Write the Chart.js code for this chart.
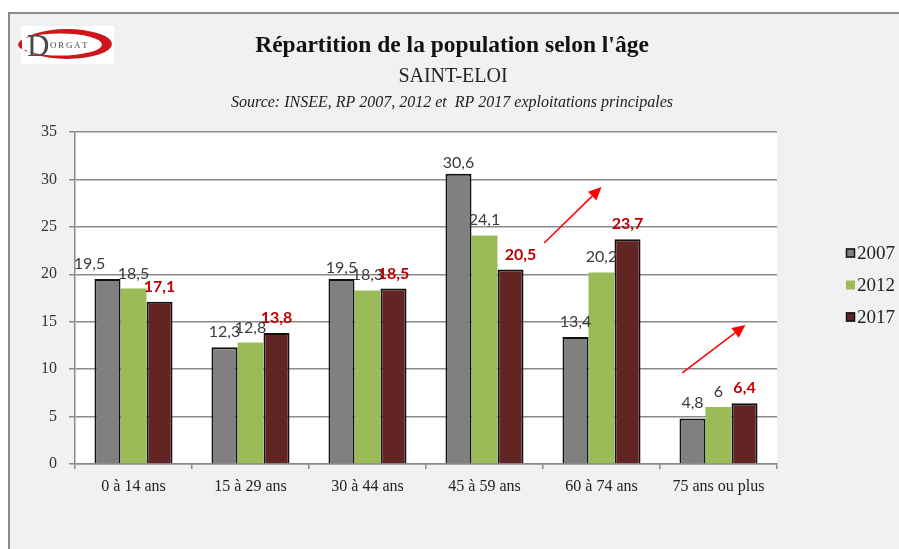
<!DOCTYPE html>
<html><head><meta charset="utf-8">
<script src="https://cdn.jsdelivr.net/npm/chart.js@4/dist/chart.umd.min.js"></script>
<style>html,body{margin:0;padding:0;background:#fff}#wrap{width:899px;height:549px}</style>
</head><body><div id="wrap"><canvas id="c" width="899" height="549"></canvas></div>
<script>
const categories = ['0 à 14 ans','15 à 29 ans','30 à 44 ans','45 à 59 ans','60 à 74 ans','75 ans ou plus'];
const seriesNames = ['2007','2012','2017'];
const values2007 = [19.5, 12.3, 19.5, 30.6, 13.4, 4.8];
const values2012 = [18.5, 12.8, 18.3, 24.1, 20.2, 6];
const values2017 = [17.1, 13.8, 18.5, 20.5, 23.7, 6.4];
const yMin = 0, yMax = 35, yStep = 5;
const titleText = "Répartition de la population selon l'âge";
const subtitleText = 'SAINT-ELOI';
const sourceText = 'Source: INSEE, RP 2007, 2012 et  RP 2017 exploitations principales';
// trend arrows, in data coordinates (category index, value)
const arrows = [
  {from: [3.51, 23.3], to: [4.0, 29.2]},
  {from: [4.69, 9.6], to: [5.23, 14.65]}
];

const SERIF = '"Liberation Serif", "Times New Roman", serif';
const SANS = 'Lato, "Open Sans", sans-serif';

const fmt = v => String(v).replace('.', ',');

const decorPlugin = {
  id: 'decor',
  beforeDraw(chart) {
    const ctx = chart.ctx, a = chart.chartArea;
    ctx.save();
    ctx.fillStyle = '#ffffff';
    ctx.fillRect(0, 0, chart.width, chart.height);
    ctx.fillStyle = '#f1f1f1';
    ctx.fillRect(9, 13, chart.width, chart.height);
    ctx.strokeStyle = '#8c8c8c';
    ctx.lineWidth = 2;
    ctx.beginPath();
    ctx.moveTo(9, chart.height + 2); ctx.lineTo(9, 13); ctx.lineTo(chart.width + 2, 13);
    ctx.stroke();
    ctx.fillStyle = '#ffffff';
    ctx.fillRect(a.left, a.top, a.right - a.left, a.bottom - a.top);
    // logo
    ctx.fillStyle = '#ffffff';
    ctx.fillRect(21, 26, 93, 38);
    ctx.fillStyle = '#d0141c';
    ctx.beginPath();
    ctx.ellipse(67, 44, 45, 15, 0, 0, Math.PI * 2);
    ctx.ellipse(60, 44.5, 42, 11, 0, 0, Math.PI * 2);
    ctx.fill('evenodd');
    ctx.fillStyle = '#ffffff';
    ctx.fillRect(22, 38, 10, 12);
    ctx.fillStyle = '#4a4a4a';
    ctx.textBaseline = 'alphabetic';
    ctx.textAlign = 'left';
    ctx.font = '31px ' + SERIF;
    ctx.fillText('D', 27, 56);
    ctx.font = '9px ' + SERIF;
    const letters = 'ORGAT';
    for (let i = 0; i < letters.length; i++) ctx.fillText(letters[i], 50 + i * 8, 48);
    // titles
    ctx.fillStyle = '#111111';
    ctx.textAlign = 'center';
    ctx.font = 'bold 23.5px ' + SERIF;
    ctx.fillText(titleText, 452, 52);
    ctx.font = '20px ' + SERIF;
    ctx.fillStyle = '#222222';
    ctx.fillText(subtitleText, 453, 82);
    ctx.font = 'italic 16px ' + SERIF;
    ctx.fillText(sourceText, 452, 107);
    ctx.restore();
  },
  afterDatasetsDraw(chart) {
    const ctx = chart.ctx, xs = chart.scales.x, ys = chart.scales.y;
    const nudges = chart.options.plugins.decor.nudges;
    ctx.save();
    ctx.textAlign = 'center';
    ctx.textBaseline = 'alphabetic';
    chart.data.datasets.forEach((ds, di) => {
      const meta = chart.getDatasetMeta(di);
      meta.data.forEach((bar, i) => {
        const n = (nudges[di] && nudges[di][i]) || [0, 0];
        const red = di === 2;
        ctx.font = (red ? 'bold ' : '') + '16px ' + SANS;
        ctx.fillStyle = red ? '#c00000' : '#3a3a3a';
        ctx.fillText(fmt(ds.data[i]), bar.x + n[0], bar.y - 10 + n[1]);
      });
    });
    // arrows
    ctx.strokeStyle = '#ff0000';
    ctx.fillStyle = '#ff0000';
    ctx.lineWidth = 1.5;
    arrows.forEach(ar => {
      const x1 = xs.getPixelForValue(ar.from[0]), y1 = ys.getPixelForValue(ar.from[1]);
      const x2 = xs.getPixelForValue(ar.to[0]), y2 = ys.getPixelForValue(ar.to[1]);
      const ang = Math.atan2(y2 - y1, x2 - x1);
      const L = 13, W = 6;
      const bx = x2 - L * Math.cos(ang), by = y2 - L * Math.sin(ang);
      ctx.beginPath(); ctx.moveTo(x1, y1); ctx.lineTo(bx, by); ctx.stroke();
      ctx.beginPath();
      ctx.moveTo(x2, y2);
      ctx.lineTo(bx + W * Math.sin(ang), by - W * Math.cos(ang));
      ctx.lineTo(bx - W * Math.sin(ang), by + W * Math.cos(ang));
      ctx.closePath(); ctx.fill();
    });
    // legend
    const rows = [253, 285, 317];
    chart.data.datasets.forEach((ds, di) => {
      const y = rows[di];
      ctx.fillStyle = ds.backgroundColor;
      ctx.fillRect(846, y - 4.5, 9, 9);
      if (ds.borderWidth) {
        ctx.strokeStyle = '#111'; ctx.lineWidth = 1.5;
        ctx.strokeRect(846.5, y - 4, 8, 8);
      }
      ctx.fillStyle = '#222';
      ctx.textAlign = 'left';
      ctx.font = '19px ' + SERIF;
      ctx.fillText(ds.label, 857, y + 6);
    });
    ctx.restore();
  }
};

new Chart(document.getElementById('c'), {
  type: 'bar',
  data: {
    labels: categories,
    datasets: [
      {label: seriesNames[0], data: values2007, backgroundColor: '#808080', borderColor: '#111111', borderWidth: 2, borderSkipped: 'start'},
      {label: seriesNames[1], data: values2012, backgroundColor: '#9bbb59', borderWidth: 0},
      {label: seriesNames[2], data: values2017, backgroundColor: '#632523', borderColor: '#111111', borderWidth: 2, borderSkipped: 'start'}
    ]
  },
  options: {
    responsive: false,
    animation: false,
    devicePixelRatio: 1,
    layout: {padding: {left: 0, top: 132, right: 122, bottom: 0}},
    datasets: {bar: {categoryPercentage: 0.667, barPercentage: 1}},
    plugins: {
      legend: {display: false},
      title: {display: false},
      tooltip: {enabled: false},
      decor: {nudges: [[[-18, 0], [0, 0], [0, 4], [0, 4], [0, 0], [0, 0]], [], [[0, 0], [0, 0], [0, 0], [10, 0], [0, 0], [0, 0]]]}
    },
    scales: {
      x: {
        afterFit(s) { s.height = 85; },
        offset: true,
        grid: {offset: true, drawOnChartArea: false, drawTicks: true, tickLength: 5, color: '#8a8a8a', lineWidth: 1.5},
        border: {display: true, color: '#8a8a8a', width: 1.5},
        ticks: {font: {family: SERIF, size: 16}, color: '#222222', padding: 8, maxRotation: 0, autoSkip: false}
      },
      y: {
        afterFit(s) { s.width = 75; },
        min: yMin, max: yMax,
        grid: {color: '#8a8a8a', lineWidth: 1.5, drawTicks: true, tickLength: 6},
        border: {display: true, color: '#8a8a8a', width: 1.5},
        ticks: {stepSize: yStep, font: {family: SERIF, size: 16}, color: '#333333', padding: 12}
      }
    }
  },
  plugins: [decorPlugin]
});
</script>
</body></html>
